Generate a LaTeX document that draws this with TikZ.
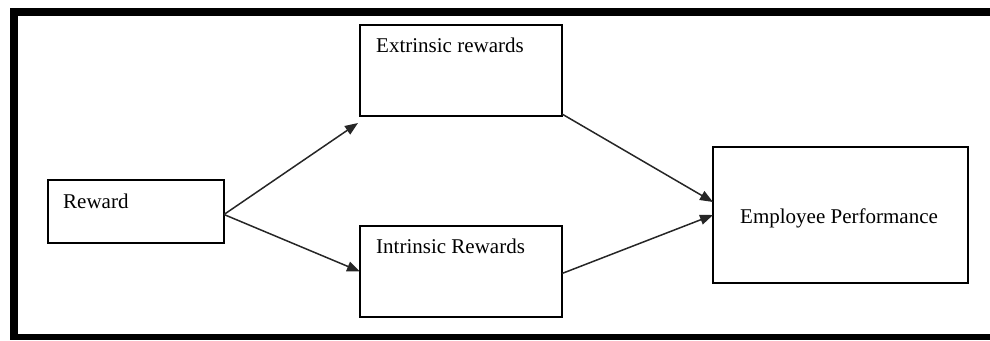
\documentclass[tikz,border=0pt]{standalone}
\usepackage{fontspec}
\setmainfont{Liberation Serif}
\usetikzlibrary{arrows.meta,calc}
\tikzset{
  box/.style={draw=black, line width=1.8pt, rectangle, inner sep=0pt, outer sep=0pt, anchor=north west},
  lbl/.style={anchor=base west, inner sep=0pt, font=\fontsize{21}{25}\selectfont},
  conn/.style={draw=black!85, line width=1.5pt, -{Triangle[length=13pt,width=10pt]}},
  frame/.style={fill=black, draw=none}
}
\begin{document}
\begin{tikzpicture}[x=1pt,y=-1pt]
\useasboundingbox (0,0) rectangle (990,340);
% frame
\fill[frame] (10,8) rectangle (990,16);
\fill[frame] (10,8) rectangle (18,340);
\fill[frame] (10,334) rectangle (990,340);
% boxes
\node[box, minimum width=176pt, minimum height=63pt] (reward) at (48,180) {};
\node[box, minimum width=202pt, minimum height=91pt] (extr) at (360,25) {};
\node[box, minimum width=202pt, minimum height=91pt] (intr) at (360,226) {};
\node[box, minimum width=255pt, minimum height=136pt] (emp) at (713,147) {};
% labels
\node[lbl] (rewardtxt) at (63,208) {Reward};
\node[lbl] (extrtxt) at (376,52) {Extrinsic rewards};
\node[lbl] (intrtxt) at (376,253) {Intrinsic Rewards};
\node[lbl] (emptxt) at (740,223) {Employee Performance};
% connectors
\coordinate (rs) at ($(reward.east)+(0,3)$);
\draw[conn] (rs) -- ($(extr.south west)+(-2,7)$);
\draw[conn] (rs) -- (intr.west);
\draw[conn] ($(extr.south east)+(0,-2)$) -- ($(emp.west)+(0,-13)$);
\draw[conn] ($(intr.east)+(0,2)$) -- (emp.west);
\end{tikzpicture}
\end{document}
